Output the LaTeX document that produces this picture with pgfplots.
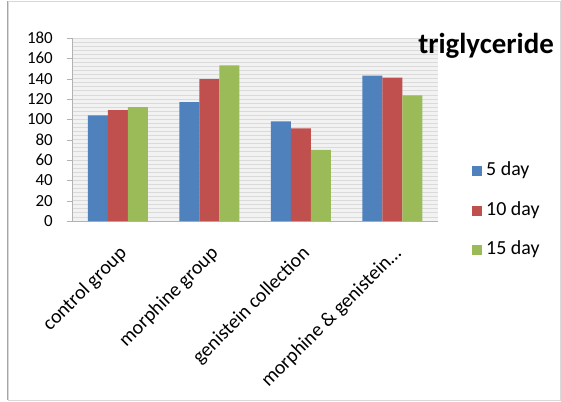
\documentclass[border=0pt]{standalone}
\usepackage{pgfplots}
\pgfplotsset{compat=1.18}
\usepackage{fontspec}
\setmainfont{Carlito}
\definecolor{sBlue}{HTML}{4F81BD}
\definecolor{sRed}{HTML}{C0504D}
\definecolor{sGreen}{HTML}{9BBB59}
\definecolor{plotbg}{HTML}{F2F2F2}
\definecolor{stripe}{HTML}{DADADA}
\begin{document}
\begin{tikzpicture}[x=1bp,y=1bp]
% outer chart frame
\path[use as bounding box] (0,0) rectangle (561,401);
\draw[gray!70, line width=1.2bp] (8,1) -- (8,400);
\draw[gray!30, line width=0.5bp] (8,1) rectangle (560,400);
\begin{axis}[
  at={(72bp,180bp)}, anchor=south west,
  scale only axis, width=366bp, height=183bp,
  ymin=0, ymax=180, ytick={0,20,...,180},
  xmin=-0.5, xmax=3.5,
  xtick={0,1,2,3},
  xticklabels={control group, morphine group, genistein collection, morphine \& genistein\ldots},
  x tick label style={xshift=0bp, yshift=-17bp, rotate=45, anchor=north east, font=\fontsize{20}{20}\selectfont, inner sep=1bp},
  y tick label style={font=\fontsize{17}{17}\selectfont, inner sep=1bp, xshift=-13bp},
  /pgf/number format/assume math mode=true,
  major x tick style={draw=none},
  extra x ticks={-0.5,0.5,1.5,2.5,3.5},
  extra x tick labels={},
  extra x tick style={major tick length=5bp, tick style={draw=gray!60}, tick align=outside, grid=none},
  axis line style={draw=gray!60},
  axis x line*=bottom, axis y line*=left,
  tick align=outside, ytick style={draw=gray!60}, major tick length=5bp,
  axis background/.style={fill=plotbg},
  minor y tick num=4,
  ymajorgrids, yminorgrids,
  major grid style={draw=stripe, line width=0.8bp},
  minor grid style={draw=stripe, line width=0.8bp},
  minor tick length=0pt,
  ybar=0pt, bar width=20bp,
]
\addplot[fill=sBlue, draw=none] coordinates {(0,104) (1,117) (2,98) (3,143)};
\addplot[fill=sRed, draw=none] coordinates {(0,109) (1,139.5) (2,91) (3,141)};
\addplot[fill=sGreen, draw=none] coordinates {(0,112) (1,153) (2,70) (3,123.5)};
\end{axis}
% title
\node[anchor=east, font=\fontsize{29}{29}\selectfont\bfseries, inner sep=0pt] at (554,355) {triglyceride};
% legend
\foreach \c/\t/\yy in {sBlue/5 day/230, sRed/10 day/190, sGreen/15 day/151}{
  \fill[\c] (472,\yy-5) rectangle (482,\yy+5);
  \node[anchor=west, font=\fontsize{20}{20}\selectfont, inner sep=0pt] at (486,\yy+0.5) {\t};
}
\end{tikzpicture}
\end{document}
